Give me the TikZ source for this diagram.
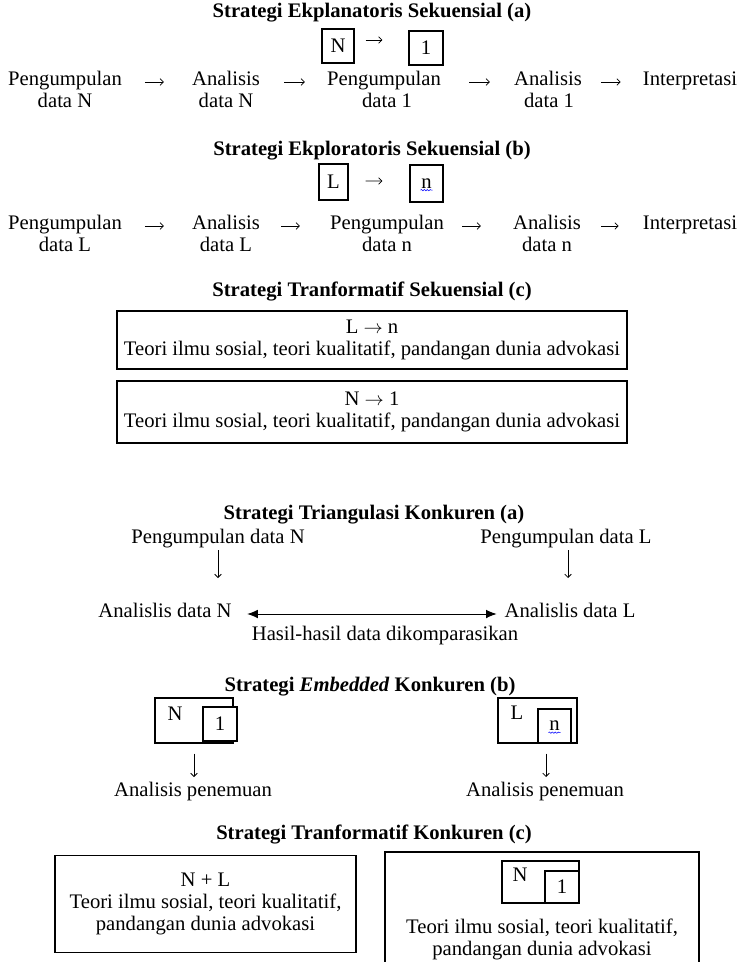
\documentclass[tikz,border=0pt]{standalone}
\usepackage{fontspec}
\setmainfont{Liberation Serif}
\usetikzlibrary{arrows.meta,positioning,decorations.pathmorphing}
\tikzset{
	txt/.style={inner sep=0pt, text height=0.7em, text depth=0.2em},
	ttl/.style={txt, font=\fontsize{15.5}{16.5}\selectfont\bfseries},
	frame/.style={draw, line width=0.8pt, inner sep=0pt},
	multi/.style={align=center, inner sep=0pt},
	glyph/.style={-{Straight Barb[length=2.5pt,width=5pt]}, line width=0.55pt},
	seq/.style 2 args={glyph, shorten <=#1, shorten >=#2},
	squig/.style={blue, line width=0.4pt, decorate, decoration={snake, amplitude=0.5pt, segment length=2.2pt}}
}
\newcommand{\toarr}{ $\rightarrow$ }
\begin{document}
\begin{tikzpicture}[x=0.75pt,y=-0.75pt, every node/.style={font=\fontsize{15.5}{16.5}\selectfont}]
	\useasboundingbox (0,0) rectangle (743,962);

	\node[ttl] (t1) at (372,14) {Strategi Ekplanatoris Sekuensial (a)};
	\node[frame, minimum width=24pt, minimum height=25.5pt] (bN) at (338,46) {N};
	\node[frame, minimum width=25.5pt, minimum height=25.5pt] (b1) at (426,48) {1};
	\draw[seq={8.25pt}{19.5pt}] ([yshift=4.5pt]bN.east) -- ([yshift=6pt]b1.west);

	\node[txt] (pg1) at (65,82) {Pengumpulan};
	\node[txt] (pg1d) at (65,104) {data N};
	\node[txt] (an1) at (226,82) {Analisis};
	\node[txt] (an1d) at (226,104) {data N};
	\node[txt] (pg2) at (384,82) {Pengumpulan};
	\node[txt] (pg2d) at (387,104) {data 1};
	\node[txt] (an2) at (548,82) {Analisis};
	\node[txt] (an2d) at (549,104) {data 1};
	\node[txt] (ip1) at (690,82) {Interpretasi};
	\draw[seq={17pt}{21pt}] (pg1) -- (an1);
	\draw[seq={18pt}{16.5pt}] (an1) -- (pg2);
	\draw[seq={21pt}{18pt}] (pg2) -- (an2);
	\draw[seq={14pt}{16.5pt}] (an2) -- (ip1);

	\node[ttl] (t2) at (372,152) {Strategi Ekploratoris Sekuensial (b)};
	\node[frame, minimum width=21.75pt, minimum height=27pt] (bL) at (333.5,182) {L};
	\node[frame, minimum width=24.75pt, minimum height=27.75pt] (bn) at (426.5,183.5) {n};
	\draw[squig] ([xshift=-4.5pt,yshift=-5pt]bn.center) -- ([xshift=4.5pt,yshift=-5pt]bn.center);
	\draw[seq={12.75pt}{20.25pt}] ([yshift=0.75pt]bL.east) -- ([yshift=1.9pt]bn.west);

	\node[txt] (pg3) at (65,226) {Pengumpulan};
	\node[txt] (pg3d) at (65,248) {data L};
	\node[txt] (an3) at (226,226) {Analisis};
	\node[txt] (an3d) at (226,248) {data L};
	\node[txt] (pg4) at (387,226) {Pengumpulan};
	\node[txt] (pg4d) at (387,248) {data n};
	\node[txt] (an4) at (547,226) {Analisis};
	\node[txt] (an4d) at (547,248) {data n};
	\node[txt] (ip2) at (690,226) {Interpretasi};
	\draw[seq={17pt}{21pt}] (pg3) -- (an3);
	\draw[seq={15.75pt}{22.5pt}] (an3) -- (pg4);
	\draw[seq={13.5pt}{24pt}] (pg4) -- (an4);
	\draw[seq={15pt}{18pt}] (an4) -- (ip2);

	\node[ttl] (t3) at (372,293) {Strategi Tranformatif Sekuensial (c)};
	\node[frame, multi, minimum width=382.5pt, minimum height=43.5pt] (bxA) at (372,340) {L\toarr n\\Teori ilmu sosial, teori kualitatif, pandangan dunia advokasi};
	\node[frame, multi, minimum width=382.5pt, minimum height=46.5pt] (bxB) at (372,412) {N\toarr 1\\Teori ilmu sosial, teori kualitatif, pandangan dunia advokasi};

	\node[ttl] (t4) at (374,516) {Strategi Triangulasi Konkuren (a)};
	\node[txt] (pdN) at (218,540) {Pengumpulan data N};
	\node[txt] (pdL) at (566,540) {Pengumpulan data L};
	\coordinate (dN) at (218,578);
	\coordinate (dL) at (568,578);
	\draw[glyph, shorten <=3pt] (pdN.south -| dN) -- (dN);
	\draw[glyph, shorten <=3pt] (pdL.south -| dL) -- (dL);
	\node[txt] (anN) at (165,614) {Analislis data N};
	\node[txt] (anL) at (570,614) {Analislis data L};
	\draw[{Latex[length=8pt,width=6.5pt]}-{Latex[length=8pt,width=6.5pt]}, line width=0.75pt, shorten <=11.5pt, shorten >=5.7pt] (anN) -- (anL);
	\node[txt] (hs) at (385,637) {Hasil-hasil data dikomparasikan};

	\node[ttl] (t5) at (370,688) {Strategi \textit{Embedded} Konkuren (b)};
	\node[frame, minimum width=58.5pt, minimum height=33.75pt] (eNo) at (194,720.5) {};
	\node[txt] (eNt) at (175,717) {N};
	\node[frame, fill=white, minimum width=25.5pt, minimum height=25.5pt] (eNi) at (220,724) {1};
	\node[frame, minimum width=59.25pt, minimum height=33.75pt] (eLo) at (537.5,720.5) {};
	\node[txt] (eLt) at (517,716) {L};
	\node[frame, fill=white, minimum width=24.75pt, minimum height=25.5pt] (eLi) at (554.5,726) {n};
	\draw[squig] ([xshift=-4.5pt,yshift=-5pt]eLi.center) -- ([xshift=4.5pt,yshift=-5pt]eLi.center);
	\coordinate (dE1) at (194,777);
	\coordinate (dE2) at (546,777);
	\draw[glyph, shorten <=7.5pt] (eNo.south -| dE1) -- (dE1);
	\draw[glyph, shorten <=7.5pt] (eLo.south -| dE2) -- (dE2);
	\node[txt] (ap1) at (193,793) {Analisis penemuan};
	\node[txt] (ap2) at (545,793) {Analisis penemuan};

	\node[ttl] (t6) at (374,836) {Strategi Tranformatif Konkuren (c)};
	\node[frame, multi, minimum width=225.75pt, minimum height=72.75pt] (bxC) at (205.5,904) {N + L\\Teori ilmu sosial, teori kualitatif,\\pandangan dunia advokasi};
	\coordinate (rb1) at (385,962);
	\coordinate (rt) at (699,852);
	\coordinate (rb2) at (699,962);
	\draw[line width=0.8pt] (rb1) |- (rt) -- (rb2);
	\node[frame, minimum width=57.75pt, minimum height=31.5pt] (cNo) at (540.5,882) {};
	\node[txt] (cNt) at (520,878) {N};
	\node[frame, fill=white, minimum width=25.5pt, minimum height=24pt] (cNi) at (562,887) {1};
	\node[multi] (rtx) at (542,939) {Teori ilmu sosial, teori kualitatif,\\pandangan dunia advokasi};
\end{tikzpicture}
\end{document}
